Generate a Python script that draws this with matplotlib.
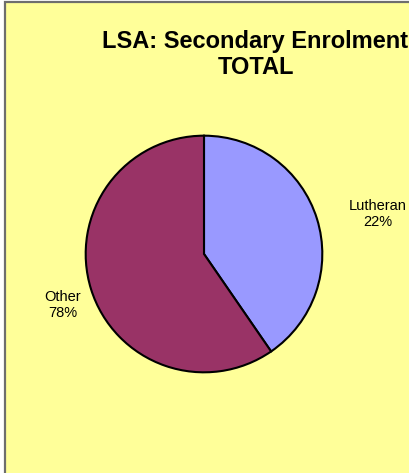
import matplotlib
matplotlib.use("Agg")
import matplotlib.pyplot as plt
from matplotlib.patches import Rectangle

# ---------------------------
# Data
# ---------------------------
categories = ["Lutheran", "Other"]
slice_sizes = [40.4, 59.6]          # wedge sizes as drawn
pct_labels = ["22%", "78%"]         # percentages as printed
slice_colors = ["#9999FF", "#993366"]

plt.rcParams['font.family'] = ['Liberation Sans', 'DejaVu Sans']

W, H = 410, 473
fig = plt.figure(figsize=(W / 100, H / 100), dpi=100)
fig.patch.set_facecolor("white")

# chart area with grey frame (runs off the right and bottom edges)
bg = fig.add_axes([0, 0, 1, 1], zorder=-1)
bg.add_patch(Rectangle((5 / W, -0.1), 1.2, 1.1 - 2 / H,
                       facecolor="#FFFF99", edgecolor="#6E6E6E", linewidth=1.6))
bg.set_xlim(0, 1)
bg.set_ylim(0, 1)
bg.axis("off")

# ===========================
# Pie
# ===========================
cx, cy, r = 204, 254, 119.5
ax = fig.add_axes([(cx - r) / W, (H - cy - r) / H, 2 * r / W, 2 * r / H])
ax.pie(slice_sizes, colors=slice_colors, startangle=90, counterclock=False,
       radius=1, wedgeprops=dict(edgecolor="black", linewidth=1.5))
ax.set_xlim(-1.01, 1.01)
ax.set_ylim(-1.01, 1.01)
ax.axis("off")

label_pos = [(1.465, 0.34), (-1.195, -0.43)]
for name, pct, (x, y) in zip(categories, pct_labels, label_pos):
    ax.text(x, y, name + "\n" + pct, ha="center", va="center",
            fontsize=10.5, linespacing=1.15, color="black")

# ===========================
# Title
# ===========================
fig.text(255 / W, 1 - 48 / H, "LSA: Secondary Enrolment", ha="center",
         va="baseline", fontsize=17, fontweight="bold")
fig.text(256 / W, 1 - 74 / H, "TOTAL", ha="center",
         va="baseline", fontsize=17, fontweight="bold")

fig.savefig("out.png", dpi=100)
